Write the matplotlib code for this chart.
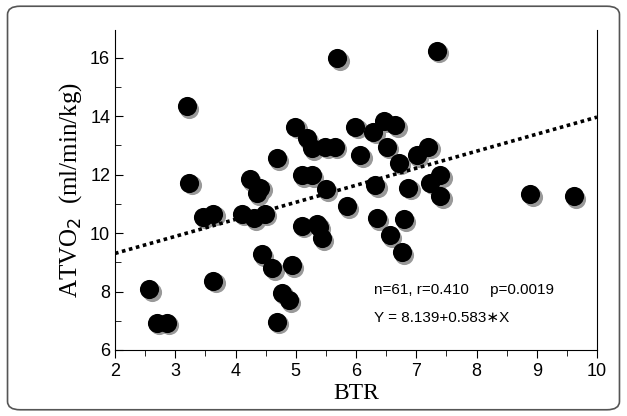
import matplotlib
matplotlib.use("Agg")
import matplotlib.pyplot as plt
from matplotlib.patches import FancyBboxPatch
import numpy as np

btr = [2.57,2.69,2.86,3.19,3.23,3.46,3.63,3.63,4.10,4.24,4.30,4.35,4.41,4.49,4.44,4.69,4.61,4.69,4.77,4.88,4.93,4.99,5.10,5.27,5.18,5.27,5.10,5.36,5.38,5.43,5.50,5.49,5.65,5.69,5.85,5.99,6.07,6.29,6.32,6.35,6.46,6.51,6.56,6.65,6.71,6.76,6.79,6.87,7.01,7.20,7.23,7.40,7.40,7.34,8.89,9.61]
atvo2 = [8.08,6.93,6.93,14.35,11.72,10.56,10.67,8.37,10.67,11.84,10.50,11.36,11.56,10.67,9.28,12.56,8.79,6.97,7.96,7.71,8.91,13.64,11.99,11.99,13.24,12.90,10.25,10.31,10.22,9.82,11.50,12.96,12.96,15.98,10.93,13.64,12.67,13.47,11.64,10.50,13.85,12.96,9.93,13.70,12.41,9.34,10.47,11.56,12.67,12.96,11.72,11.99,11.27,16.24,11.34,11.27]
intercept, slope = 8.139, 0.583

fig = plt.figure(figsize=(6.27,4.16), dpi=100)
fig.patches.append(FancyBboxPatch((0.012,0.015),0.976,0.97,boxstyle="round,pad=0,rounding_size=0.02",
    transform=fig.transFigure, fill=False, edgecolor="#555555", linewidth=1.2))
ax = fig.add_axes([115/627, 1-350/416, 482/627, 320/416])
x = np.array(btr); y = np.array(atvo2)
ax.scatter(x+0.04, y-0.09, s=190, color="#999999", zorder=2, linewidths=0)
ax.scatter(x, y, s=190, color="black", zorder=3, linewidths=0)
xl = np.array([2,10])
ax.plot(xl, intercept+slope*xl, color="black", linestyle=(0,(1,1)), linewidth=2.6, zorder=4)
ax.set_xlim(2,10); ax.set_ylim(6,16.95)
ax.set_xticks(range(2,11)); ax.set_xticks(np.arange(2,10.01,0.5), minor=True)
ax.set_yticks(range(6,17,2)); ax.set_yticks(range(6,17), minor=True)
ax.spines['top'].set_visible(False)
ax.tick_params(axis='x', direction='out', length=6, labelsize=13)
ax.tick_params(axis='x', which='minor', direction='out', length=4)
ax.tick_params(axis='y', direction='in', length=6, labelsize=13)
ax.tick_params(axis='y', which='minor', direction='in', length=4)
for lab in ax.get_xticklabels()+ax.get_yticklabels():
    lab.set_family("Liberation Sans")
ax.set_xlabel("BTR", fontsize=17, family="Liberation Serif", labelpad=2)
ax.set_ylabel("ATVO$_2$  (ml/min/kg)", fontsize=18, family="Liberation Serif")
fam = ["Liberation Sans", "DejaVu Sans"]
ax.text(6.3, 7.9, "n=61, r=0.410     p=0.0019", fontsize=11, family=fam)
ax.text(6.3, 6.95, "Y = 8.139+0.583\u2217X", fontsize=11, family=fam)
fig.savefig("out.png", dpi=100)
